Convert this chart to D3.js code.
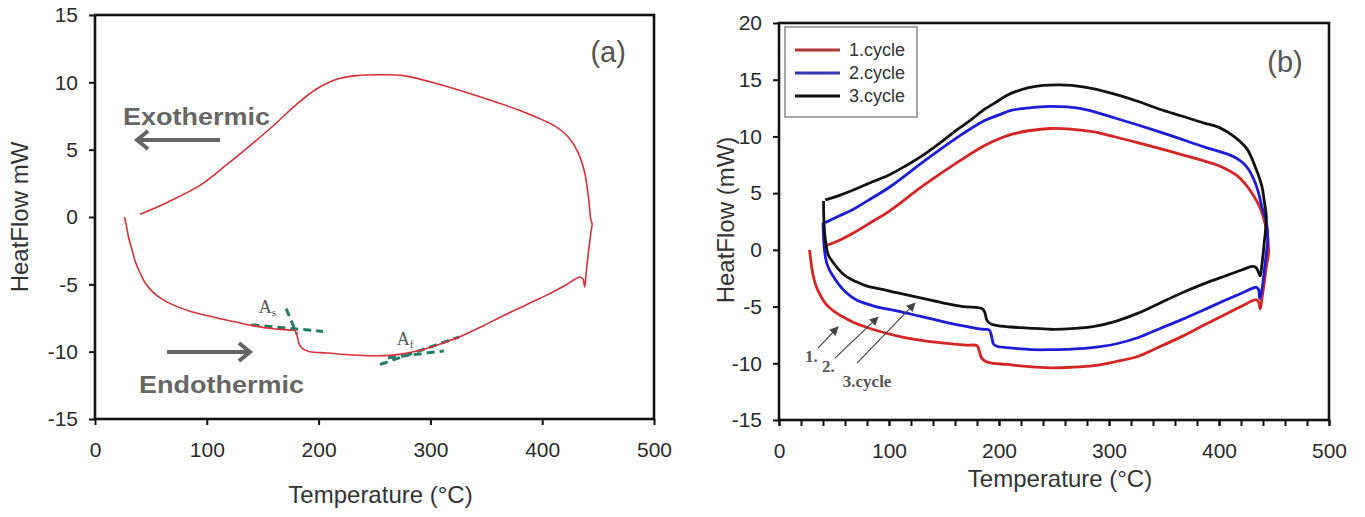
<!DOCTYPE html>
<html>
<head>
<meta charset="utf-8">
<script src="https://cdn.jsdelivr.net/npm/d3@7"></script>
<style>
  body { margin: 0; background: #fff; }
  svg { display: block; }
</style>
</head>
<body>
<div id="chart"></div>
<script>
// Temperature (°C), HeatFlow (mW) pairs, in drawing order
var singleCycle = [
  [26.4, 0.0], [28, -0.6], [30, -1.5], [33, -2.4], [36, -3.3], [40, -4.1], [45, -4.9], [52, -5.6],
  [60, -6.1], [72, -6.6], [85, -7.0], [102, -7.35], [120, -7.7], [140, -8.05], [160, -8.3],
  [175, -8.4], [179, -8.45], [181, -8.9], [183, -9.5], [186, -9.8], [192, -10.0], [208, -10.1],
  [230, -10.25], [253, -10.3], [272, -10.2], [291, -9.9], [310, -9.4], [329, -8.8], [348, -8.05],
  [366, -7.3], [385, -6.55], [404, -5.8], [420, -5.1], [434, -4.45], [436.5, -4.6], [438, -5.2],
  [439.5, -4.0], [441.5, -2.5], [443.5, -1.2], [444.6, -0.5], [443.5, -0.2], [441.6, 1.3],
  [438, 3.3], [432, 4.8], [422.7, 6.0], [411.5, 6.75], [385, 7.75], [347, 8.85], [310, 9.8],
  [276, 10.5], [253, 10.56], [234, 10.5], [215, 10.2], [197, 9.45], [178, 8.2], [159, 6.74],
  [140, 5.4], [118, 3.9], [95, 2.4], [65, 1.1], [40.3, 0.2]
];

var cycle1 = [
  [27.8, 0.0], [29, -1.0], [30.5, -2.0], [33, -3.0], [36.5, -3.8], [42, -4.7], [48.4, -5.3],
  [58, -5.9], [68, -6.4], [85, -7.0], [108, -7.6], [128, -7.95], [148, -8.2], [170, -8.4],
  [180, -8.45], [182, -8.9], [184, -9.5], [188, -9.85], [195, -10.0], [207, -10.1], [227, -10.3],
  [247, -10.4], [266, -10.35], [286.5, -10.2], [306, -9.85], [326, -9.4], [346, -8.55],
  [366, -7.65], [386, -6.65], [405.6, -5.7], [420, -5.0], [434, -4.4], [436, -4.6], [437.5, -5.2],
  [439, -4.3], [441, -3.0], [443, -1.5], [445, -0.3], [444.5, 0.9], [443, 1.8], [440, 3.0],
  [436, 4.0], [430, 5.0], [424, 5.8], [417, 6.5], [405, 7.2], [397.6, 7.5], [366, 8.4],
  [326, 9.45], [306, 9.95], [286.5, 10.4], [265, 10.65], [247, 10.7], [227, 10.5], [212, 10.2],
  [203, 9.9], [187, 9.2], [163.5, 7.8], [131.7, 5.7], [100, 3.4], [85, 2.5], [68, 1.5],
  [54, 0.8], [40.5, 0.3]
];

var cycle2 = [
  [40, 2.4], [40.3, 1.5], [41, 0.3], [42.5, -0.8], [45, -1.6], [48.4, -2.2], [54, -3.0],
  [60.3, -3.7], [70, -4.4], [88, -5.0], [108, -5.4], [128, -5.85], [148, -6.3], [167.5, -6.7],
  [185, -7.0], [191, -7.05], [193, -7.5], [195, -8.3], [198, -8.5], [211, -8.65], [230, -8.8],
  [247, -8.8], [266, -8.75], [286.5, -8.6], [306, -8.3], [326, -7.75], [346, -6.95], [366, -6.15],
  [386, -5.3], [405.6, -4.45], [420, -3.85], [434, -3.3], [436, -3.5], [437, -4.3], [439, -3.5],
  [441, -2.0], [443, -0.3], [444.4, 1.0], [443, 2.5], [439, 3.8], [436, 5.0], [433, 5.9],
  [425.4, 7.3], [413.5, 8.2], [385.7, 9.1], [346, 10.4], [306, 11.6], [274.6, 12.45],
  [247, 12.65], [225, 12.5], [211, 12.3], [200, 11.9], [187, 11.4], [163.5, 10.0], [131.7, 7.8],
  [100, 5.5], [80, 4.3], [68, 3.6], [55, 3.0], [42, 2.4]
];

var cycle3 = [
  [40.5, 4.3], [40.7, 3.0], [41.5, 1.5], [43, 0.3], [45, -0.5], [48.4, -1.0], [54, -1.7],
  [60.3, -2.3], [70, -2.8], [80, -3.2], [95, -3.5], [108, -3.8], [131.7, -4.3], [150, -4.7],
  [167.5, -5.0], [185, -5.2], [187, -5.5], [189, -6.2], [192, -6.5], [197, -6.65], [211, -6.8],
  [227, -6.9], [247, -7.0], [266, -6.95], [286.5, -6.75], [306, -6.3], [326, -5.6], [346, -4.7],
  [366, -3.8], [386, -3.0], [405.6, -2.3], [420, -1.8], [431, -1.45], [434, -1.6], [436, -2.0],
  [437.5, -2.3], [439, -1.3], [441, 0.5], [443, 2.9], [441, 4.4], [439, 5.6], [433, 7.3],
  [425.4, 8.9], [413.5, 10.0], [400, 10.8], [385.7, 11.2], [366, 11.8], [346, 12.4], [326, 13.1],
  [306, 13.7], [286.5, 14.2], [266, 14.5], [254.8, 14.55], [240, 14.5], [227, 14.3], [215, 13.95],
  [207, 13.6], [197, 13.0], [187, 12.4], [175, 11.5], [163.5, 10.7], [150, 9.7], [131.7, 8.4],
  [115, 7.4], [100, 6.6], [85, 6.0], [68, 5.3], [55, 4.8], [42, 4.4]
];

var seriesNames = ["1.cycle", "2.cycle", "3.cycle"];
var seriesColors = ["#d42424", "#1c1cd6", "#111111"];
var legendColors = ["#b03535", "#3535b8", "#111111"];

var xTicks = [0, 100, 200, 300, 400, 500];
var yTicksA = [-15, -10, -5, 0, 5, 10, 15];
var yTicksB = [-15, -10, -5, 0, 5, 10, 15, 20];

// tangent construction lines in panel (a)
var tangents = [
  [[140, -8.0], [204, -8.5]],
  [[171, -6.8], [180.5, -8.7]],
  [[255, -10.95], [326, -8.9]],
  [[262, -10.45], [312, -9.95]]
];

var W = 1365, H = 517;
var FONT = "'Liberation Sans', Arial, sans-serif";
var SERIF = "'Liberation Serif', 'Times New Roman', serif";

var svg = d3.select("#chart").append("svg")
  .attr("width", W).attr("height", H);
svg.append("rect").attr("width", W).attr("height", H).attr("fill", "#fff");

var defs = svg.append("defs");
defs.append("marker")
  .attr("id", "tri").attr("viewBox", "0 0 10 10")
  .attr("refX", 9).attr("refY", 5)
  .attr("markerWidth", 9).attr("markerHeight", 9)
  .attr("markerUnits", "userSpaceOnUse")
  .attr("orient", "auto")
  .append("path").attr("d", "M0,0 L10,5 L0,10 Z").attr("fill", "#444");

// plain hyphen for negatives, like the original
var fmt = function(d) { return String(d); };

/** draws the frame, axes and titles of one panel and returns its scales */
function panel(box, yDomain, yTicks, xMinor, yTitle, titleY) {
  var x = d3.scaleLinear().domain([0, 500]).range([box.left, box.right]);
  var y = d3.scaleLinear().domain(yDomain).range([box.bottom, box.top]);
  var g = svg.append("g");

  if (xMinor) {
    g.append("g")
      .attr("transform", "translate(0," + box.bottom + ")")
      .call(d3.axisBottom(x).tickValues(d3.range(0, 501, 20)).tickSize(6).tickFormat(""))
      .call(function(s) { s.select(".domain").remove(); })
      .selectAll("line").attr("stroke", "#111").attr("stroke-width", 2);
  }
  var xa = g.append("g")
    .attr("transform", "translate(0," + box.bottom + ")")
    .call(d3.axisBottom(x).tickValues(xTicks).tickSize(6).tickPadding(17).tickFormat(fmt));
  var ya = g.append("g")
    .attr("transform", "translate(" + box.left + ",0)")
    .call(d3.axisLeft(y).tickValues(yTicks).tickSize(6).tickPadding(11).tickFormat(fmt));

  [xa, ya].forEach(function(a) {
    a.select(".domain").remove();
    a.selectAll("line").attr("stroke", "#111").attr("stroke-width", 2);
    a.selectAll("text").attr("font-family", FONT).attr("font-size", 21).attr("fill", "#2a2a2a");
  });

  g.append("rect")
    .attr("x", box.left).attr("y", box.top)
    .attr("width", box.right - box.left).attr("height", box.bottom - box.top)
    .attr("fill", "none").attr("stroke", "#111").attr("stroke-width", 2.6);

  g.append("text")
    .attr("x", (box.left + box.right) / 2 + 6).attr("y", titleY)
    .attr("text-anchor", "middle")
    .attr("font-family", FONT).attr("font-size", 24).attr("fill", "#333")
    .text("Temperature (°C)");
  g.append("text")
    .attr("transform", "translate(" + yTitle.x + "," + yTitle.y + ") rotate(-90)")
    .attr("text-anchor", "middle")
    .attr("font-family", FONT).attr("font-size", 24).attr("fill", "#333")
    .text(yTitle.text);

  return {x: x, y: y, g: g};
}

// ---------------- panel (a) ----------------
var pa = panel({left: 95, right: 654, top: 15, bottom: 419}, [-15, 15], yTicksA, false,
  {x: 28, y: 217, text: "HeatFlow mW"}, 503);

var lineA = d3.line()
  .x(function(d) { return pa.x(d[0]); })
  .y(function(d) { return pa.y(d[1]); })
  .curve(d3.curveCatmullRom.alpha(0.5));

tangents.forEach(function(t) {
  pa.g.append("line")
    .attr("x1", pa.x(t[0][0])).attr("y1", pa.y(t[0][1]))
    .attr("x2", pa.x(t[1][0])).attr("y2", pa.y(t[1][1]))
    .attr("stroke", "#237a66").attr("stroke-width", 3)
    .attr("stroke-dasharray", "8,5");
});

pa.g.append("path").datum(singleCycle)
  .attr("d", lineA).attr("fill", "none")
  .attr("stroke", "#d9303a").attr("stroke-width", 1.6);

function subLabel(s, xv, yv, sub) {
  var t = s.g.append("text")
    .attr("x", s.x(xv)).attr("y", s.y(yv))
    .attr("font-family", SERIF).attr("font-size", 18).attr("fill", "#555");
  t.append("tspan").text("A");
  t.append("tspan").attr("font-size", 11).attr("dy", 3).text(sub);
}
subLabel(pa, 146.5, -7.1, "s");
subLabel(pa, 270, -9.5, "f");

pa.g.append("text")
  .attr("x", pa.x(25)).attr("y", pa.y(6.83))
  .attr("font-family", FONT).attr("font-weight", "bold").attr("font-size", 23)
  .attr("fill", "#666").attr("textLength", 147).attr("lengthAdjust", "spacingAndGlyphs")
  .text("Exothermic");
pa.g.append("text")
  .attr("x", pa.x(39.4)).attr("y", pa.y(-13.06))
  .attr("font-family", FONT).attr("font-weight", "bold").attr("font-size", 23)
  .attr("fill", "#666").attr("textLength", 165).attr("lengthAdjust", "spacingAndGlyphs")
  .text("Endothermic");

function openArrow(s, x1, x2, yv) {
  var px1 = s.x(x1), px2 = s.x(x2), py = s.y(yv);
  var dir = px2 > px1 ? -1 : 1;
  s.g.append("line")
    .attr("x1", px1).attr("y1", py).attr("x2", px2 + dir * 1).attr("y2", py)
    .attr("stroke", "#666").attr("stroke-width", 4);
  s.g.append("path")
    .attr("d", "M" + (px2 + dir * 11) + "," + (py - 9) + " L" + px2 + "," + py +
      " L" + (px2 + dir * 11) + "," + (py + 9))
    .attr("fill", "none").attr("stroke", "#666").attr("stroke-width", 4)
    .attr("stroke-linejoin", "miter");
}
openArrow(pa, 111.8, 37.6, 5.72);
openArrow(pa, 64.4, 138.6, -10.02);

pa.g.append("text")
  .attr("x", pa.x(459)).attr("y", pa.y(11.5))
  .attr("text-anchor", "middle")
  .attr("font-family", FONT).attr("font-size", 29).attr("fill", "#555")
  .text("(a)");

// ---------------- panel (b) ----------------
var pb = panel({left: 779, right: 1329, top: 23, bottom: 420}, [-15, 20], yTicksB, true,
  {x: 734, y: 220, text: "HeatFlow (mW)"}, 487);

var lineB = d3.line()
  .x(function(d) { return pb.x(d[0]); })
  .y(function(d) { return pb.y(d[1]); })
  .curve(d3.curveCatmullRom.alpha(0.5));

[cycle1, cycle2, cycle3].forEach(function(c, i) {
  pb.g.append("path").datum(c)
    .attr("d", lineB).attr("fill", "none")
    .attr("stroke", seriesColors[i]).attr("stroke-width", 2.8);
});

// legend
var lg = pb.g.append("g");
lg.append("rect")
  .attr("x", 785).attr("y", 27).attr("width", 132).attr("height", 90)
  .attr("fill", "#fff").attr("stroke", "#888").attr("stroke-width", 1.5);
seriesNames.forEach(function(n, i) {
  var yy = 50 + i * 23;
  lg.append("line")
    .attr("x1", 795).attr("x2", 840).attr("y1", yy).attr("y2", yy)
    .attr("stroke", legendColors[i]).attr("stroke-width", 3);
  lg.append("text")
    .attr("x", 849).attr("y", yy + 6)
    .attr("font-family", FONT).attr("font-size", 18).attr("fill", "#333")
    .text(n);
});

// pointer arrows to the lower branches
var pointers = [
  {from: [35.5, -8.66], to: [53.6, -6.8], label: "1.", at: [23.6, -9.9]},
  {from: [50.9, -9.54], to: [90, -5.93], label: "2.", at: [39, -10.78]},
  {from: [70.9, -9.98], to: [123.6, -4.69], label: "3.cycle", at: [58, -12.1]}
];
pointers.forEach(function(p) {
  pb.g.append("line")
    .attr("x1", pb.x(p.from[0])).attr("y1", pb.y(p.from[1]))
    .attr("x2", pb.x(p.to[0])).attr("y2", pb.y(p.to[1]))
    .attr("stroke", "#444").attr("stroke-width", 1.2)
    .attr("marker-end", "url(#tri)");
  pb.g.append("text")
    .attr("x", pb.x(p.at[0])).attr("y", pb.y(p.at[1]))
    .attr("font-family", SERIF).attr("font-weight", "bold").attr("font-size", 17)
    .attr("fill", "#555")
    .text(p.label);
});

pb.g.append("text")
  .attr("x", pb.x(460)).attr("y", pb.y(15.7))
  .attr("text-anchor", "middle")
  .attr("font-family", FONT).attr("font-size", 29).attr("fill", "#555")
  .text("(b)");
</script>
</body>
</html>
